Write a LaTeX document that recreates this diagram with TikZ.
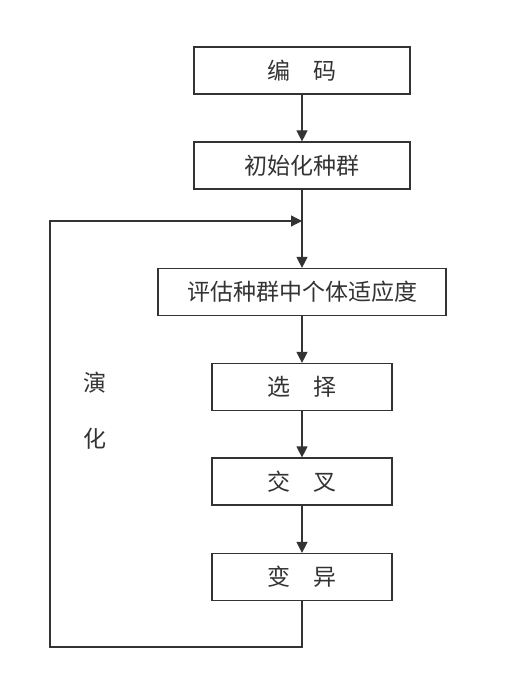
\documentclass[tikz,border=0pt]{standalone}
\usepackage{fontspec}
\newfontfamily\cjk{Noto Sans CJK SC}
\usetikzlibrary{arrows.meta}

\begin{document}
\begin{tikzpicture}
      [x=1pt,y=-1pt,line width=1.2pt,draw=black!80,
       every node/.style={font=\cjk\fontsize{23}{27}\selectfont,text=black!80},
       stepbox/.style={draw=black!80,minimum height=47pt,inner sep=0pt},
       >={Triangle[width=11pt,length=11pt]}]
      \useasboundingbox (0,0) rectangle (531,692);
      \node[stepbox,minimum width=216pt] (code) at (302,70.5) {编\hspace{1em}码};
      \node[stepbox,minimum width=216pt] (init) at (302,165.5) {初始化种群};
      \node[stepbox,minimum width=288pt] (eval) at (302,292) {评估种群中个体适应度};
      \node[stepbox,minimum width=180pt] (sel) at (302,387) {选\hspace{1em}择};
      \node[stepbox,minimum width=180pt] (cross) at (302,481.5) {交\hspace{1em}叉};
      \node[stepbox,minimum width=180pt] (mut) at (302,577) {变\hspace{1em}异};
      \coordinate (join) at (302,221);

      \foreach \from/\to in {code/init, join/eval, eval/sel, sel/cross, cross/mut}
      \draw [->] (\from) -- (\to);
      \draw (init) -- (join);

      \draw [->] (mut.south) |- (50,647) |- (join);
      \node (evo1) at (95,383) {演};
      \node (evo2) at (95,439) {化};
    \end{tikzpicture}
\end{document}
